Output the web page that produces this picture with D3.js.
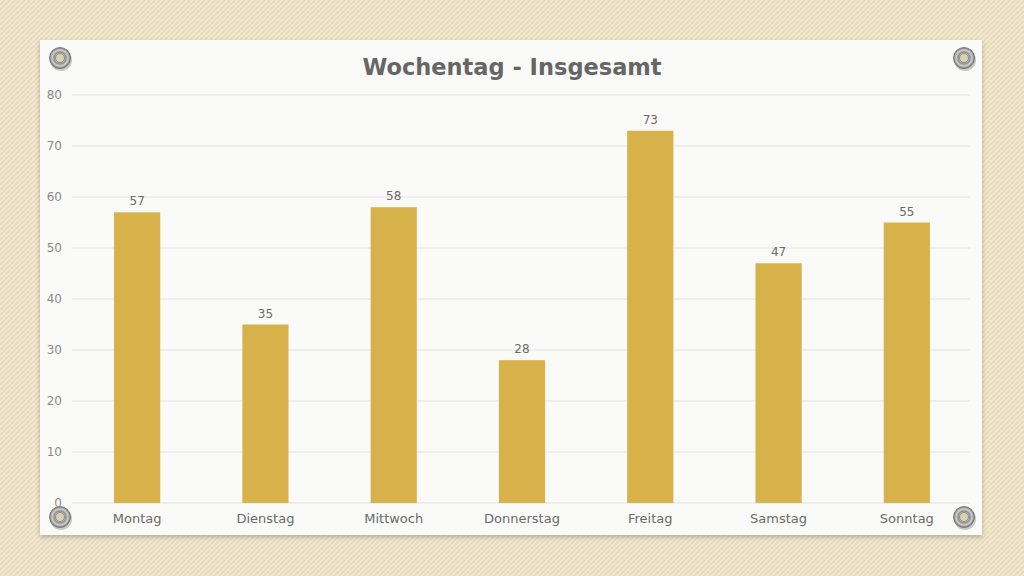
<!DOCTYPE html>
<html><head><meta charset="utf-8">
<script src="https://cdn.jsdelivr.net/npm/d3@7"></script>
<style>
html,body{margin:0;padding:0;width:1024px;height:576px;overflow:hidden;background:#efe5cb;}
</style></head>
<body>
<svg id="c" width="1024" height="576"></svg>
<script>
const categories = ["Montag","Dienstag","Mittwoch","Donnerstag","Freitag","Samstag","Sonntag"];
const values = [57,35,58,28,73,47,55];
const yTicks = [0,10,20,30,40,50,60,70,80];
const title = "Wochentag - Insgesamt";

const svg = d3.select("#c");
const defs = svg.append("defs");

const pat = defs.append("pattern").attr("id","tex").attr("width",5).attr("height",5).attr("patternUnits","userSpaceOnUse");
pat.append("rect").attr("width",5).attr("height",5).attr("fill","#efe5cb");
pat.append("path").attr("d","M0,5 L5,0").attr("stroke","#e6dabb").attr("stroke-width",1.3);
pat.append("path").attr("d","M0,2.5 L2.5,0 M2.5,5 L5,2.5").attr("stroke","#f5eedc").attr("stroke-width",0.7);
svg.append("rect").attr("width",1024).attr("height",576).attr("fill","url(#tex)");

const sh = defs.append("filter").attr("id","sh").attr("x","-5%").attr("y","-5%").attr("width","110%").attr("height","115%");
sh.append("feDropShadow").attr("dx",0).attr("dy",2).attr("stdDeviation",2.5).attr("flood-color","#000").attr("flood-opacity",0.25);

svg.append("rect").attr("x",40).attr("y",40).attr("width",942).attr("height",495)
  .attr("fill","#fafaf9").attr("filter","url(#sh)");

const gr = defs.append("radialGradient").attr("id","gm");
gr.append("stop").attr("offset","0%").attr("stop-color","#d8cfb8");
gr.append("stop").attr("offset","45%").attr("stop-color","#cfc8b8");
gr.append("stop").attr("offset","55%").attr("stop-color","#8a8a8a");
gr.append("stop").attr("offset","75%").attr("stop-color","#d0d0d0");
gr.append("stop").attr("offset","100%").attr("stop-color","#777");
[[60,58],[964,58],[60,517],[964,517]].forEach(([cx,cy])=>{
  svg.append("circle").attr("cx",cx+1).attr("cy",cy+2).attr("r",11).attr("fill","rgba(0,0,0,0.2)");
  svg.append("circle").attr("cx",cx).attr("cy",cy).attr("r",10.5).attr("fill","url(#gm)").attr("stroke","#6f6f6f").attr("stroke-width",0.8);
  svg.append("circle").attr("cx",cx).attr("cy",cy).attr("r",4.5).attr("fill","#d9d0b6").attr("stroke","#8d8d8d").attr("stroke-width",1);
});

const x = d3.scaleBand().domain(categories).range([73,971]).paddingInner(0.64).paddingOuter(0.32);
const y = d3.scaleLinear().domain([0,80]).range([503,95]);

const font = "'DejaVu Sans', sans-serif";

svg.append("g").selectAll("line").data(yTicks).join("line")
  .attr("x1",72).attr("x2",970).attr("y1",d=>y(d)).attr("y2",d=>y(d))
  .attr("stroke","#e2e2e2").attr("stroke-width",1);

const yAxis = svg.append("g").attr("transform","translate(62,0)")
  .call(d3.axisLeft(y).tickValues(yTicks).tickSize(0).tickPadding(0));
yAxis.select(".domain").remove();
yAxis.selectAll("text").attr("fill","#8a8a8a").attr("font-size",12).attr("font-family",font);

svg.append("g").selectAll("rect").data(values).join("rect")
  .attr("x",(d,i)=>x(categories[i])).attr("width",x.bandwidth())
  .attr("y",d=>y(d)).attr("height",d=>y(0)-y(d)).attr("fill","#d7b24a");

svg.append("g").selectAll("text").data(values).join("text")
  .attr("x",(d,i)=>x(categories[i])+x.bandwidth()/2).attr("y",d=>y(d)-7)
  .attr("text-anchor","middle").attr("fill","#6a6a6a").attr("font-size",12).attr("font-family",font)
  .text(d=>d);

const xAxis = svg.append("g").attr("transform","translate(0,503)")
  .call(d3.axisBottom(x).tickSize(0).tickPadding(11));
xAxis.select(".domain").remove();
xAxis.selectAll("text").attr("fill","#6a6a6a").attr("font-size",13).attr("font-family",font);

svg.append("text").attr("x",512).attr("y",75).attr("text-anchor","middle")
  .attr("fill","#666").attr("font-size",22.5).attr("font-weight","bold").attr("font-family",font)
  .text(title);
</script>
</body></html>
